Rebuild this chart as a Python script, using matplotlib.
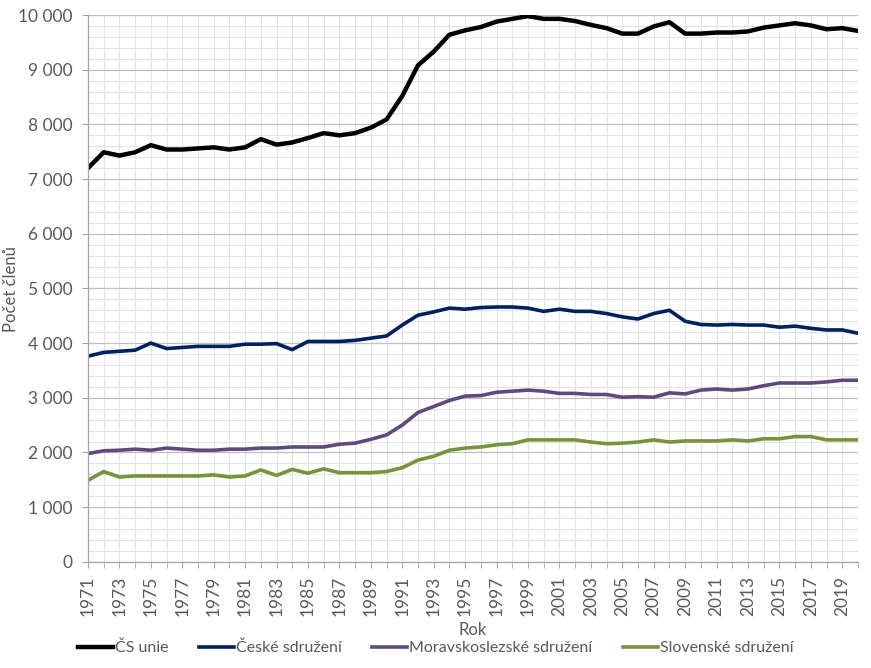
import numpy as np
import matplotlib
matplotlib.use('Agg')
import matplotlib.pyplot as plt
from matplotlib.ticker import MultipleLocator, FuncFormatter

#%% data
years = list(range(1971, 2021))

cs_unie = [7200, 7490, 7430, 7490, 7620, 7540, 7540, 7560, 7580, 7540,
           7580, 7730, 7630, 7670, 7750, 7840, 7800, 7840, 7940, 8090,
           8520, 9080, 9330, 9640, 9720, 9780, 9880, 9930, 9980, 9930,
           9930, 9890, 9820, 9760, 9660, 9660, 9790, 9870, 9660, 9660,
           9680, 9680, 9700, 9770, 9810, 9850, 9810, 9740, 9760, 9710]

ceske = [3760, 3830, 3850, 3870, 4000, 3900, 3920, 3940, 3940, 3940,
         3980, 3980, 3990, 3880, 4030, 4030, 4030, 4050, 4090, 4130,
         4330, 4510, 4570, 4640, 4620, 4650, 4660, 4660, 4640, 4580,
         4620, 4580, 4580, 4540, 4480, 4440, 4540, 4600, 4400, 4340,
         4330, 4340, 4330, 4330, 4290, 4310, 4270, 4240, 4240, 4180]

moravskoslezske = [1980, 2030, 2040, 2060, 2040, 2080, 2060, 2040, 2040, 2060,
                   2060, 2080, 2080, 2100, 2100, 2100, 2150, 2170, 2240, 2320,
                   2500, 2730, 2840, 2950, 3030, 3040, 3100, 3120, 3140, 3120,
                   3080, 3080, 3060, 3060, 3010, 3020, 3010, 3090, 3070, 3140,
                   3160, 3140, 3160, 3220, 3270, 3270, 3270, 3290, 3320, 3320]

slovenske = [1490, 1650, 1550, 1570, 1570, 1570, 1570, 1570, 1590, 1550,
             1570, 1680, 1580, 1690, 1620, 1700, 1630, 1630, 1630, 1650,
             1720, 1860, 1930, 2040, 2080, 2100, 2140, 2160, 2230, 2230,
             2230, 2230, 2190, 2160, 2170, 2190, 2230, 2190, 2210, 2210,
             2210, 2230, 2210, 2250, 2250, 2290, 2290, 2230, 2230, 2230]

series_names = ['ČS unie', 'České sdružení', 'Moravskoslezské sdružení', 'Slovenské sdružení']

#%% plot
plt.rcParams['font.family'] = ['Lato', 'DejaVu Sans']
txt_col = '#595959'

fig = plt.figure(figsize=(8.71, 6.68), dpi=100)
ax = fig.add_axes([0.101, 0.159, 0.884, 0.8185])

ax.plot(years, cs_unie, color='black', lw=3.2, label=series_names[0], solid_joinstyle='round')
ax.plot(years, ceske, color='#002060', lw=2.6, label=series_names[1], solid_joinstyle='round')
ax.plot(years, moravskoslezske, color='#604A7B', lw=2.6, label=series_names[2], solid_joinstyle='round')
ax.plot(years, slovenske, color='#77933C', lw=2.6, label=series_names[3], solid_joinstyle='round')

ax.set_xlim(1971, 2020)
ax.set_ylim(0, 10000)

ax.yaxis.set_major_locator(MultipleLocator(1000))
ax.yaxis.set_minor_locator(MultipleLocator(200))
ax.yaxis.set_major_formatter(FuncFormatter(lambda v, p: f'{int(v):,}'.replace(',', ' ')))
ax.set_xticks(years, minor=True)
ax.set_xticks(years[::2])
ax.set_xticklabels([str(y) for y in years[::2]], rotation=90)

ax.grid(which='minor', color='#e3e3e3', lw=0.8)
ax.grid(which='major', axis='x', color='#e3e3e3', lw=0.8)
ax.grid(which='major', axis='y', color='#bfbfbf', lw=0.9)
ax.set_axisbelow(True)

for s in ['top', 'right']:
    ax.spines[s].set_visible(False)
for s in ['left', 'bottom']:
    ax.spines[s].set_color('#a6a6a6')
    ax.spines[s].set_linewidth(0.9)

ax.tick_params(axis='y', which='major', length=4, color='#a6a6a6', labelsize=12.5, labelcolor=txt_col,
               direction='out', pad=7)
ax.tick_params(axis='y', which='minor', length=0)
ax.tick_params(axis='x', which='both', length=4, color='#a6a6a6', labelsize=12.5, labelcolor=txt_col,
               direction='out', pad=6)

ax.set_xlabel('Rok', fontsize=12, color=txt_col, labelpad=4)
fig.text(11 / 871, 0.568, 'Počet členů', rotation=90, fontsize=12, color=txt_col,
         ha='center', va='center')

fig.legend(loc='center', bbox_to_anchor=(0.5, 0.030), ncol=4, frameon=False,
           fontsize=11.5, handlelength=2.2, handletextpad=0.12, columnspacing=1.9,
           labelcolor=txt_col)

fig.savefig('out.png', dpi=100)
